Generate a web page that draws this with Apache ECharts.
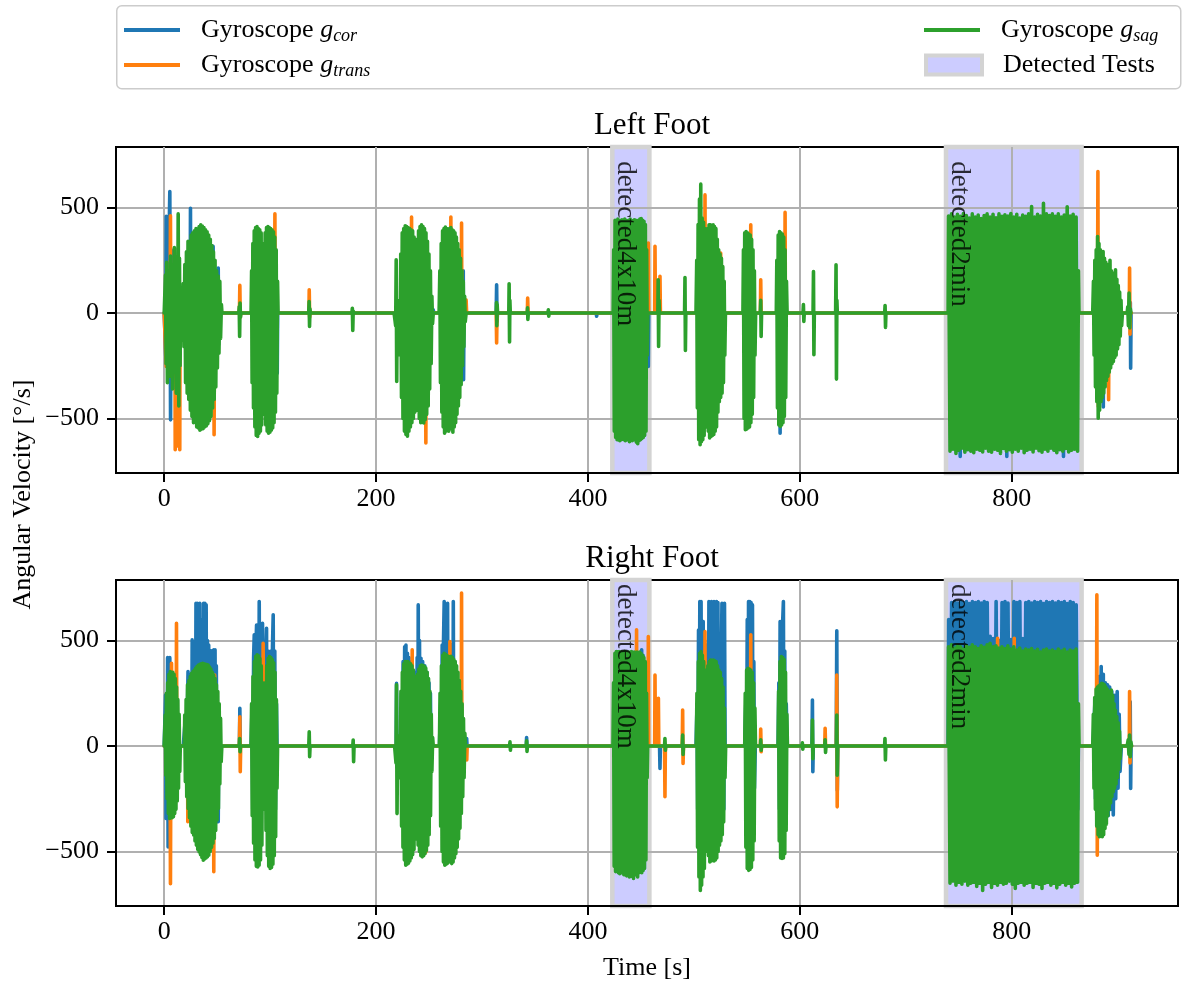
<!DOCTYPE html>
<html>
<head>
<meta charset="utf-8">
<script src="https://cdn.jsdelivr.net/npm/echarts@6/dist/echarts.min.js"></script>
<style>
  html, body { margin: 0; padding: 0; background: #fff; }
  #chart { width: 1187px; height: 989px; }
</style>
</head>
<body>
<div id="chart"></div>
<script>
// Gyroscope recordings (time in s, angular velocity in deg/s)
const xTicks = [0, 200, 400, 600, 800];
const yTicks = [-500, 0, 500];
const testSpans = [[423, 458], [738, 866]];
const testNames = ['detected4x10m', 'detected2min'];

// ---- Left foot ----
const lfCor = [[0,0],[1.5,-205],[1.9,458],[2.4,-253],[3,200],[3.6,-150],[4.4,300],[5.3,576],[6,-506],[6.6,300],[7.2,-200],[8,100],[9,-100],[10,50],[11,0],
[19.6,0],[20.1,213],[20.6,-200],[21.2,0],[24.5,0],[24.8,497],[25.2,-300],[25.8,0],[45.9,0],[46.2,316],[46.6,-300],[47,0],[50.7,0],[51,213],[51.4,-150],[51.8,0],
[106.3,0],[106.7,-285],[107.1,0],[253.6,0],[254,15],[254.4,0],[281.9,0],[282.3,200],[282.6,-316],[283,0],
[313.4,0],[313.8,134],[314.2,-40],[314.6,0],[407.8,0],[408.2,-15],[408.6,0],[456.6,0],[457,-253],[457.4,0],
[524.9,0],[525.3,-237],[525.7,0],[581,0],[581.4,-569],[581.8,0],[751,0],[751.4,-680],[751.8,0],[795,0],[795.4,-680],[795.8,0],
[848.5,0],[848.9,-680],[849.3,0],[886.1,0],[886.5,-445],[886.9,0],[911.6,0],[912,50],[912.3,-261],[912.7,0],[913,0]];

const lfTrans = [[0,0],[1.5,0],[1.9,-253],[2.3,0],[5.6,0],[5.9,461],[6.3,-200],[7,0],[10.1,0],[10.4,-648],[10.8,0],[12.5,0],[12.8,-630],[13.2,0],[14.4,0],[14.7,-648],[15,0],
[22.3,0],[22.6,-348],[23,0],[46.8,0],[47.1,-577],[47.5,0],[71,0],[71.4,131],[71.8,-20],[72.2,0],[104.2,0],[104.5,471],[104.8,0],
[136.6,0],[136.9,110],[137.3,-20],[137.7,0],[233.2,0],[233.5,455],[233.8,0],[246.7,0],[247,-616],[247.3,0],
[270.3,0],[270.6,455],[270.9,0],[280.4,0],[280.7,427],[281,0],[285,62],[285.5,0],[313.4,0],[313.8,-142],[314.2,0],[342.8,0],[343.1,71],[343.5,0],
[456.6,0],[457,332],[457.4,0],[463,0],[463.3,316],[463.7,0],[467.7,0],[468,174],[468.4,0],[510.2,0],[510.5,560],[510.8,0],[525,0],[525.3,284],[525.7,0],
[553.4,0],[553.7,418],[554,0],[562.8,0],[563.1,158],[563.5,0],[585.8,0],[586.1,477],[586.4,0],
[881,0],[881.4,671],[881.8,-443],[882.2,0],[891.2,0],[891.5,-411],[891.9,0],[911,0],[911.3,213],[911.7,-100],[912,0],[913,0]];

const lfSag = [[0,0],[0.8,0],
[1.2,180],[1.8,-240],[2.4,240],[3,-330],[3.6,200],[4.2,-300],[4.8,150],[5.4,-250],[6,270],[6.6,-300],[7.2,180],[7.8,-360],[8.4,230],[9,-200],[9.6,310],[10.2,-280],[10.8,250],[11.4,-380],[12,200],[12.6,-300],[13.2,470],[13.8,-440],[14.4,260],[15,-250],[15.6,120],[16.2,-130],[16.8,100],[17.4,-90],
[18,140],[18.7,-160],[19.5,230],[20.2,-330],[21,290],[21.7,-380],[22.5,340],[23.2,-410],[24,330],[24.7,-460],[25.5,370],[26.2,-490],[27,380],[27.7,-520],[28.5,390],[29.2,-510],[30,400],[30.7,-540],[31.5,395],[32.2,-545],[33,410],[33.7,-555],[34.5,418],[35.2,-550],[36,412],[36.7,-548],[37.5,405],[38.2,-540],[39,395],[39.7,-535],[40.5,385],[41.2,-525],[42,370],[42.7,-510],[43.5,350],[44.2,-490],[45,320],[45.7,-450],[46.5,290],[47.2,-410],[48,250],[48.7,-350],[49.5,200],[50.2,-260],[51,175],[51.7,-190],[52.5,150],[53.2,-120],[54,40],[54.5,0],
[70.4,0],[70.8,30],[71.2,-111],[71.6,47],[72,-20],[72.5,0],
[82,0],[82.5,200],[83,-330],[83.7,330],[84.3,-450],[85,390],[85.6,-540],[86.3,405],[86.9,-580],[87.6,410],[88.2,-585],[88.9,400],[89.5,-570],[90.2,395],[90.8,-560],[91.5,380],[92.1,-530],[92.8,330],[93.4,-420],[94,300],[94.6,-480],[95.3,380],[95.9,-530],[96.6,405],[97.2,-560],[97.9,410],[98.5,-569],[99.2,405],[99.8,-565],[100.5,400],[101.1,-555],[101.8,395],[102.4,-545],[103.1,385],[103.7,-520],[104.4,360],[105,-470],[105.7,300],[106.3,-380],[107,150],[107.5,0],
[136.4,0],[136.8,55],[137.2,-63],[137.6,20],[138,0],[177.2,0],[177.6,23],[178,-82],[178.4,10],[178.8,0],
[217,0],[218.5,-60],[219,252],[219.5,-324],[220,60],[221,-40],[222,30],[222.7,-200],[223.3,280],[224,-400],[224.7,380],[225.4,-500],[226.1,400],[226.8,-560],[227.5,414],[228.2,-575],[228.9,410],[229.6,-584],[230.3,405],[231,-560],[231.7,400],[232.4,-540],[233.1,395],[233.8,-520],[234.5,390],[235.2,-500],[235.9,360],[236.6,-470],[237.3,330],[238,-420],[238.7,350],[239.4,-460],[240.1,390],[240.8,-500],[241.5,410],[242.2,-520],[242.9,418],[243.6,-515],[244.3,410],[245,-521],[245.7,400],[246.4,-505],[247.1,380],[247.8,-480],[248.5,340],[249.2,-440],[249.9,280],[250.6,-360],[251.3,200],[252,-240],[252.7,80],[253.3,-50],[254,0],
[259.5,0],[260.2,200],[260.8,-330],[261.5,330],[262.1,-470],[262.8,390],[263.4,-540],[264.1,400],[264.7,-569],[265.4,408],[266,-560],[266.7,400],[267.3,-555],[268,395],[268.6,-560],[269.3,400],[269.9,-545],[270.6,405],[271.2,-550],[271.9,395],[272.5,-565],[273.2,390],[273.8,-540],[274.5,380],[275.1,-520],[275.8,360],[276.4,-480],[277.1,330],[277.7,-440],[278.4,300],[279,-400],[279.7,260],[280.3,-340],[281,200],[281.6,-250],[282.3,150],[282.9,-160],[283.6,80],[284.2,-40],[285,0],
[313.4,0],[313.7,50],[314,-60],[314.3,40],[314.7,0],[325.3,0],[325.6,139],[326,-137],[326.3,60],[326.7,0],[342.7,0],[343,25],[343.3,-30],[343.7,0],[362.2,0],[362.6,15],[363,-15],[363.4,0],[407.8,0],[408.2,8],[408.6,-8],[409,0],
[423.8,0],[424.3,300],[424.9,-560],[425.6,440],[426.2,-590],[426.9,430],[427.5,-600],[428.2,445],[428.8,-595],[429.5,440],[430.1,-605],[430.8,435],[431.4,-600],[432.1,442],[432.7,-590],[433.4,438],[434,-600],[434.7,445],[435.3,-605],[436,440],[436.6,-598],[437.3,432],[437.9,-600],[438.6,440],[439.2,-610],[439.9,445],[440.5,-600],[441.2,438],[441.8,-605],[442.5,436],[443.1,-595],[443.8,442],[444.4,-600],[445.1,440],[445.7,-612],[446.4,435],[447,-619],[447.7,440],[448.3,-605],[449,445],[449.6,-600],[450.3,448],[450.9,-595],[451.6,440],[452.2,-590],[452.9,435],[453.5,-580],[454.2,420],[454.8,-560],[455.4,300],[456,-200],[456.5,0],
[466,0],[466.3,158],[466.7,-158],[467.1,60],[467.5,0],[491.2,0],[491.6,168],[492,-177],[492.4,0],
[502,0],[502.7,250],[503.3,-450],[504,420],[504.6,-600],[505.3,540],[505.9,-624],[506.5,611],[507.1,-610],[507.8,450],[508.4,-600],[509.1,430],[509.7,-580],[510.4,400],[511,-540],[511.7,330],[512.3,-450],[513,400],[513.6,-560],[514.3,418],[514.9,-592],[515.6,418],[516.2,-585],[516.9,415],[517.5,-580],[518.2,418],[518.8,-575],[519.5,410],[520.1,-560],[520.8,400],[521.4,-540],[522.1,350],[522.7,-470],[523.4,300],[524,-420],[524.7,280],[525.3,-400],[526,260],[526.6,-380],[527.3,220],[527.9,-330],[528.6,150],[529.2,-200],[529.8,0],
[546.3,0],[546.8,300],[547.4,-500],[548,380],[548.6,-553],[549.3,386],[549.9,-550],[550.6,380],[551.2,-545],[551.9,375],[552.5,-540],[553.2,370],[553.8,-520],[554.5,350],[555.1,-480],[555.8,300],[556.4,-400],[557.1,200],[557.7,-200],[558.3,0],
[562.7,0],[563.1,60],[563.5,-111],[563.9,0],
[577.8,0],[578.3,250],[578.9,-450],[579.6,370],[580.2,-530],[580.9,386],[581.5,-537],[582.2,380],[582.8,-530],[583.5,375],[584.1,-520],[584.8,360],[585.4,-490],[586.1,300],[586.7,-400],[587.4,150],[588,0],
[603,0],[603.4,40],[603.8,-40],[604.2,0],[612.5,0],[612.9,197],[613.3,-197],[613.7,0],[633.8,0],[634.2,229],[634.6,-313],[635,60],[635.4,0],[680.1,0],[680.5,36],[680.9,-68],[681.3,0],
[740,0],[740.4,460],[741.8,-655],[743.2,470],[744.6,-645],[746,455],[747.4,-665],[748.8,468],[750.2,-650],[751.6,458],[753,-640],[754.4,472],[755.8,-660],[757.2,462],[758.6,-648],[760,450],[761.4,-655],[762.8,470],[764.2,-662],[765.6,455],[767,-645],[768.4,465],[769.8,-650],[771.2,448],[772.6,-658],[774,462],[775.4,-640],[776.8,470],[778.2,-655],[779.6,455],[781,-660],[782.4,468],[783.8,-645],[785.2,452],[786.6,-650],[788,470],[789.4,-665],[790.8,458],[792.2,-642],[793.6,466],[795,-655],[796.4,460],[797.8,-648],[799.2,472],[800.6,-660],[802,455],[803.4,-645],[804.8,468],[806.2,-655],[807.6,450],[809,-640],[810.4,465],[811.8,-662],[813.2,458],[814.6,-650],[816,470],[817.4,-645],[818.8,505],[820.2,-658],[821.6,455],[823,-640],[824.4,468],[825.8,-652],[827.2,460],[828.6,-660],[830,520],[831.4,-645],[832.8,470],[834.2,-655],[835.6,462],[837,-640],[838.4,470],[839.8,-650],[841.2,458],[842.6,-662],[844,470],[845.4,-648],[846.8,455],[848.2,-655],[849.6,465],[851,-642],[852.4,504],[853.8,-658],[855.2,460],[856.6,-650],[858,468],[859.4,-645],[860.8,455],[862.2,-655],[863,200],[863.5,0],
[876.5,0],[877.2,150],[877.8,-200],[878.5,250],[879.1,-350],[879.8,300],[880.4,-420],[881.1,363],[881.7,-498],[882.4,330],[883,-460],[883.7,300],[884.3,-420],[885,280],[885.6,-400],[886.3,292],[886.9,-380],[887.6,260],[888.2,-350],[888.9,240],[889.5,-320],[890.2,230],[890.8,-300],[891.5,220],[892.1,-280],[892.8,250],[893.4,-260],[894.1,200],[894.7,-240],[895.4,190],[896,-230],[896.7,180],[897.3,-210],[898,205],[898.6,-200],[899.3,160],[899.9,-170],[900.6,130],[901.2,-150],[901.9,100],[902.5,-110],[903.2,60],[903.8,-60],[904.5,0],
[909,0],[909.6,30],[910.2,-60],[910.8,95],[911.4,-70],[912,20],[912.6,0],[913,0]];

// ---- Right foot ----
const rfCor = [[0,0],[1,0],[1.3,242],[1.7,-343],[2.2,150],[2.8,-200],[3.2,419],[3.7,-478],[4.2,300],[4.7,-250],[5.3,419],[5.8,-300],[6.4,380],[6.9,-250],[7.5,200],[8.5,-150],[10,100],[11.3,0],[11.6,-217],[11.9,0],[14,0],
[18,0],[19.5,100],[21,-100],[22.5,353],[23,-200],[24,300],[24.6,-250],[25.2,340],[25.8,-300],[26.4,503],[27,-300],[27.6,495],[28.2,-300],[28.8,480],[29.4,-300],[30,677],[30.6,-300],[31.2,677],[31.8,-300],[32.4,670],[33,-300],[33.6,677],[34.2,-300],[34.8,600],[35.4,-300],[36,550],[36.6,-300],[37.2,677],[37.8,-300],[38.4,677],[39,-300],[39.6,670],[40.2,-300],[40.8,500],[41.4,-300],[42,479],[42.6,-300],[43.2,440],[43.8,-300],[44.4,452],[45,-300],[45.6,430],[46.2,-300],[46.8,456],[47.4,-300],[48,456],[48.6,-300],[49.2,380],[49.8,-359],[50.4,150],[51,-359],[51.6,100],[52.5,0],
[71,0],[71.4,179],[71.8,0],
[82,0],[83,200],[83.6,-300],[84.4,420],[85,527],[85.6,-300],[86.5,450],[87.2,574],[87.8,-300],[88.6,470],[89.1,-300],[89.7,685],[90.3,-300],[91.2,460],[91.8,-300],[92.8,582],[93.4,-200],[94.2,150],[95,-200],[95.8,420],[96.6,558],[97.2,-300],[98,450],[98.6,-300],[99.4,432],[100,-300],[100.8,450],[101.4,-300],[102.2,470],[102.9,622],[103.5,-300],[104.4,450],[105,-300],[106,200],[106.5,0],
[219,0],[219.3,297],[219.7,-100],[220.2,0],[223,0],[224,250],[224.6,-300],[225.5,400],[226.1,-300],[227,471],[227.6,-300],[228.2,479],[228.8,-300],[229.6,440],[230.2,-300],[231,420],[231.6,-300],[232.5,400],[233.1,-300],[234,380],[235.1,-438],[235.8,300],[236.5,-300],[237.3,350],[238,-300],[238.8,420],[239.4,-300],[239.8,669],[240.4,-300],[241,500],[241.6,-300],[242.4,416],[243,-300],[244,400],[244.6,-300],[246,380],[246.6,-300],[248,350],[248.6,-300],[250,300],[250.6,-200],[251.3,250],[251.9,-100],[252.5,0],
[259.8,0],[261,200],[261.6,-300],[262.4,479],[263,-300],[263.6,479],[264.3,685],[264.9,-300],[265.6,500],[266.2,-300],[266.9,480],[267.5,677],[268.1,-300],[269,450],[269.6,-300],[270.4,480],[271,-300],[271.8,450],[272.4,-300],[272.9,685],[273.5,-300],[274.4,400],[275,-300],[276.2,350],[276.8,-250],[278.2,250],[278.8,-200],[280.2,150],[280.8,-100],[282.2,0],[285.2,0],[285.5,36],[285.9,0],
[341.8,0],[342.1,40],[342.5,0],
[440,0],[447.4,300],[448,432],[448.6,-300],[449.3,440],[449.9,-300],[450.7,456],[451.3,-300],[452,430],[452.6,-300],[453.3,400],[454,-200],[455,0],
[467.6,0],[468,-106],[468.4,0],
[502,0],[503,200],[503.6,-300],[504.4,550],[505,-300],[505.6,685],[506.2,-300],[506.8,685],[507.4,-300],[508.2,540],[508.8,590],[509.4,-300],[510.2,500],[510.8,-300],[511.6,450],[512.2,-300],[513,480],[513.6,-300],[514.2,685],[514.8,-300],[515.4,680],[516,-300],[516.6,685],[517.2,-300],[517.8,670],[518.4,-300],[519,685],[519.6,-300],[520.2,675],[520.8,-300],[521.4,685],[522,-300],[522.7,680],[523.3,-300],[524,470],[524.6,-300],[525.3,-335],[525.9,400],[526.5,677],[527.1,-300],[527.7,670],[528.3,-300],[528.9,677],[529.5,0],
[548,0],[549,200],[549.6,-300],[550.4,600],[551,-300],[551.6,685],[552.2,-300],[552.8,685],[553.4,-300],[554,680],[554.6,-300],[555.3,669],[555.9,-300],[556.6,400],[557.2,-200],[558,0],
[579.5,0],[580.2,300],[580.8,-300],[581.4,590],[582,-300],[582.7,500],[583.3,-300],[583.9,600],[584.5,685],[585.1,-300],[585.8,450],[586.4,-300],[587.2,200],[588,0],
[611.5,0],[611.9,218],[612.3,-122],[612.7,0],[634.4,0],[634.9,546],[635.4,-209],[635.9,0],
[740,0],[740.5,600],[741.9,-300],[743.3,680],[744.7,-300],[746.1,685],[747.5,-300],[748.9,678],[750.3,-300],[751.7,685],[753.1,-300],[754.5,680],[755.9,-300],[757.3,685],[758.7,-300],[760.1,675],[761.5,-300],[762.9,685],[764.3,-300],[765.7,680],[767.1,-300],[768.5,685],[769.9,-300],[771.3,678],[772.7,-300],[774.1,685],[775.5,-300],[776.9,680],[778.3,-300],[779.7,520],[781.1,-300],[782.5,510],[783.9,-300],[785.3,685],[786.7,-300],[788.1,500],[789.5,-300],[790.9,680],[792.3,-300],[793.7,685],[795.1,-300],[796.5,678],[797.9,-300],[799.3,505],[800.7,-300],[802.1,685],[803.5,-300],[804.9,680],[806.3,-300],[807.7,685],[809.1,-300],[810.5,510],[811.9,-300],[813.3,680],[814.7,-300],[816.1,685],[817.5,-300],[818.9,678],[820.3,-300],[821.7,685],[823.1,-300],[824.5,680],[825.9,-300],[827.3,685],[828.7,-300],[830.1,675],[831.5,-300],[832.9,685],[834.3,-300],[835.7,680],[837.1,-300],[838.5,685],[839.9,-300],[841.3,678],[842.7,-300],[844.1,685],[845.5,-300],[846.9,680],[848.3,-300],[849.7,685],[851.1,-300],[852.5,675],[853.9,-300],[855.3,685],[856.7,-300],[858.1,680],[859.5,-300],[860.9,670],[862.3,-300],[863,0],
[876.8,0],[878.5,200],[879.1,-250],[880.5,280],[881.1,-320],[882.5,330],[883.1,-360],[884.5,377],[885.1,-380],[886.5,340],[887.1,-360],[888.5,300],[889.1,-340],[890.5,290],[891.1,-330],[892.5,280],[893.1,-300],[894.5,260],[895.9,-327],[897.3,240],[898.2,-250],[899.6,258],[900.4,-200],[901.5,150],[902.3,-120],[903.5,0],[911.6,0],[911.9,210],[912.3,-201],[912.7,0],[913.2,0]];

const rfTrans = [[0,0],[5.5,0],[5.9,-652],[6.3,0],[6.6,0],[6.9,392],[7.2,0],[11.3,0],[11.6,582],[11.9,0],
[22,0],[22.3,-359],[22.6,0],[46.5,0],[46.8,-596],[47.1,0],[47.6,337],[48,0],[71,0],[71.4,139],[71.8,-122],[72.2,0],[93.1,0],[93.4,487],[93.7,0],
[233.8,0],[234.1,456],[234.4,0],[246.7,0],[247,-502],[247.3,0],[269.4,0],[269.7,495],[270,0],[280.4,0],[280.7,725],[281,0],[285.2,0],[285.6,-66],[286,0],
[445.6,0],[445.9,551],[446.2,0],[456.7,0],[457,519],[457.3,0],[463,0],[463.3,337],[463.7,0],[466.2,0],[466.5,226],[466.9,0],[472.3,0],[472.7,-240],[473.1,0],[489,0],[489.4,171],[489.8,-82],[490.2,0],
[510.2,0],[510.5,543],[510.8,0],[553.4,0],[553.7,527],[554,0],[562.8,0],[563.1,81],[563.5,-27],[563.9,0],
[623.5,0],[623.9,84],[624.3,0],[634.5,0],[634.9,337],[635.3,-288],[635.7,0],
[786.4,0],[786.7,511],[787,0],[802.1,0],[802.4,511],[802.7,0],
[880,0],[880.4,717],[880.8,-517],[881.2,0],[894.3,0],[894.6,-201],[895,0],[911,0],[911.3,258],[911.7,-80],[912,0],[913.2,0]];

const rfSag = [[0,0],[0.6,0],
[1,147],[1.5,-138],[2.1,250],[2.7,-250],[3.3,300],[3.9,-320],[4.5,340],[5.1,-343],[5.7,353],[6.3,-330],[6.9,345],[7.5,-340],[8.1,350],[8.7,-335],[9.3,340],[9.9,-320],[10.5,320],[11.1,-300],[11.7,280],[12.3,-260],[12.9,220],[13.5,-200],[14.1,150],[14.7,-120],[15.2,0],
[19,0],[19.4,147],[20,-169],[20.7,220],[21.3,-240],[22,290],[22.6,-296],[23.3,310],[23.9,-340],[24.6,330],[25.2,-380],[25.9,345],[26.5,-410],[27.2,353],[27.8,-422],[28.5,360],[29.1,-450],[29.8,370],[30.4,-470],[31.1,378],[31.7,-490],[32.4,384],[33,-502],[33.7,388],[34.3,-515],[35,390],[35.6,-528],[36.3,392],[36.9,-541],[37.6,390],[38.2,-535],[38.9,388],[39.5,-530],[40.2,386],[40.8,-525],[41.5,384],[42.1,-517],[42.8,375],[43.4,-500],[44.1,365],[44.7,-480],[45.4,350],[46,-460],[46.7,337],[47.3,-438],[48,320],[48.6,-400],[49.3,290],[49.9,-350],[50.6,258],[51.2,-296],[51.9,200],[52.5,-180],[53.2,131],[53.8,-74],[54.4,0],
[70.9,0],[71.2,36],[71.6,-27],[72,0],
[82,0],[82.5,200],[83.1,-330],[83.8,330],[84.4,-460],[85.1,400],[85.7,-540],[86.4,425],[87,-570],[87.7,432],[88.3,-573],[89,428],[89.6,-565],[90.3,415],[90.9,-540],[91.6,380],[92.2,-470],[92.9,300],[93.5,-300],[94.2,210],[94.8,-217],[95.5,300],[96.1,-400],[96.8,380],[97.4,-520],[98.1,415],[98.7,-570],[99.4,424],[100,-580],[100.7,420],[101.3,-575],[102,410],[102.6,-560],[103.3,395],[103.9,-520],[104.6,350],[105.2,-430],[105.9,220],[106.5,-200],[107,0],
[136.5,0],[136.9,68],[137.3,-50],[137.7,0],[178,0],[178.4,28],[178.8,-74],[179.2,0],
[217.5,0],[218.8,-80],[219.3,290],[219.8,-320],[220.3,50],[221,-30],[222,40],[222.8,-150],[223.5,260],[224.1,-380],[224.8,350],[225.4,-480],[226.1,390],[226.7,-540],[227.4,400],[228,-565],[228.7,398],[229.3,-560],[230,400],[230.6,-555],[231.3,395],[231.9,-545],[232.6,390],[233.2,-530],[233.9,380],[234.5,-515],[235.2,360],[235.8,-490],[236.5,330],[237.1,-440],[237.8,300],[238.4,-420],[239.1,340],[239.7,-470],[240.4,365],[241,-500],[241.7,380],[242.3,-520],[243,384],[243.6,-525],[244.3,382],[244.9,-520],[245.6,378],[246.2,-510],[246.9,370],[247.5,-495],[248.2,350],[248.8,-470],[249.5,320],[250.1,-420],[250.8,260],[251.4,-330],[252.1,150],[252.7,-120],[253.4,40],[254,0],
[259.8,0],[260.4,250],[261,-380],[261.7,380],[262.3,-500],[263,430],[263.6,-550],[264.3,440],[264.9,-565],[265.6,435],[266.2,-560],[266.9,430],[267.5,-555],[268.2,425],[268.8,-545],[269.5,420],[270.1,-550],[270.8,425],[271.4,-557],[272.1,420],[272.7,-550],[273.4,410],[274,-530],[274.7,400],[275.3,-510],[276,380],[276.6,-480],[277.3,350],[277.9,-440],[278.6,310],[279.2,-390],[279.9,260],[280.5,-320],[281.2,200],[281.8,-240],[282.5,130],[283.1,-150],[283.8,60],[284.4,0],
[326,0],[326.4,20],[326.8,-20],[327.2,0],[341.8,0],[342.1,25],[342.5,-25],[342.9,0],
[423.6,0],[424.2,300],[424.8,-570],[425.5,440],[426.1,-595],[426.8,448],[427.4,-590],[428.1,445],[428.7,-600],[429.4,448],[430,-605],[430.7,440],[431.3,-595],[432,446],[432.6,-600],[433.3,442],[433.9,-610],[434.6,448],[435.2,-600],[435.9,445],[436.5,-615],[437.2,440],[437.8,-605],[438.5,446],[439.1,-620],[439.8,444],[440.4,-610],[441.1,448],[441.7,-618],[442.4,440],[443,-628],[443.7,445],[444.3,-610],[445,440],[445.6,-605],[446.3,446],[446.9,-620],[447.6,440],[448.2,-600],[448.9,445],[449.5,-595],[450.2,438],[450.8,-600],[451.5,430],[452.1,-590],[452.8,420],[453.4,-580],[454.1,400],[454.7,-540],[455.3,250],[455.9,-150],[456.4,0],
[472.3,0],[472.7,36],[473.1,-20],[473.5,0],[489,0],[489.4,52],[489.8,-40],[490.2,0],
[502.3,0],[502.9,250],[503.5,-480],[504.2,400],[504.8,-620],[505.5,440],[506.1,-684],[506.7,448],[507.3,-660],[508,430],[508.6,-620],[509.3,400],[509.9,-580],[510.6,360],[511.2,-500],[511.9,330],[512.5,-460],[513.2,380],[513.8,-520],[514.5,400],[515.1,-549],[515.8,408],[516.4,-545],[517.1,405],[517.7,-540],[518.4,408],[519,-545],[519.7,404],[520.3,-540],[521,400],[521.6,-530],[522.3,380],[522.9,-500],[523.6,360],[524.2,-470],[524.9,350],[525.5,-450],[526.2,320],[526.8,-420],[527.5,280],[528.1,-360],[528.8,180],[529.4,-150],[530,0],
[548,0],[548.5,250],[549.1,-480],[549.8,360],[550.4,-580],[551.1,369],[551.7,-589],[552.4,365],[553,-585],[553.7,360],[554.3,-575],[555,350],[555.6,-540],[556.3,300],[556.9,-450],[557.6,180],[558.2,0],
[562.8,0],[563.1,30],[563.5,-20],[563.9,0],
[579.5,0],[580,260],[580.6,-450],[581.3,400],[581.9,-530],[582.6,424],[583.2,-533],[583.9,420],[584.5,-530],[585.2,410],[585.8,-510],[586.5,350],[587.1,-400],[587.8,150],[588.3,0],
[602,0],[602.4,15],[602.8,-15],[603.2,0],[611.5,0],[611.9,123],[612.3,-60],[612.7,0],[623.5,0],[623.9,30],[624.3,-30],[624.7,0],[634.5,0],[634.9,147],[635.3,-138],[635.7,0],[680,0],[680.4,36],[680.8,-66],[681.2,0],
[740,0],[740.4,470],[741.8,-650],[743.2,480],[744.6,-640],[746,465],[747.4,-660],[748.8,478],[750.2,-645],[751.6,470],[753,-655],[754.4,460],[755.8,-640],[757.2,475],[758.6,-660],[760,468],[761.4,-650],[762.8,480],[764.2,-645],[765.6,470],[767,-665],[768.4,462],[769.8,-650],[771.2,475],[772.6,-684],[774,468],[775.4,-655],[776.8,480],[778.2,-645],[779.6,487],[781,-670],[782.4,470],[783.8,-650],[785.2,475],[786.6,-660],[788,465],[789.4,-645],[790.8,470],[792.2,-655],[793.6,462],[795,-650],[796.4,475],[797.8,-640],[799.2,460],[800.6,-655],[802,470],[803.4,-675],[804.8,455],[806.2,-650],[807.6,465],[809,-645],[810.4,450],[811.8,-660],[813.2,460],[814.6,-650],[816,455],[817.4,-645],[818.8,462],[820.2,-670],[821.6,450],[823,-650],[824.4,458],[825.8,-655],[827.2,445],[828.6,-675],[830,455],[831.4,-650],[832.8,460],[834.2,-645],[835.6,450],[837,-660],[838.4,455],[839.8,-650],[841.2,448],[842.6,-672],[844,460],[845.4,-655],[846.8,450],[848.2,-645],[849.6,458],[851,-660],[852.4,445],[853.8,-650],[855.2,455],[856.6,-668],[858,450],[859.4,-650],[860.8,460],[862.2,-645],[863,200],[863.6,0],
[876.5,0],[877.1,150],[877.7,-200],[878.4,230],[879,-300],[879.7,270],[880.3,-380],[881,280],[881.6,-420],[882.3,285],[882.9,-430],[883.6,290],[884.2,-425],[884.9,297],[885.5,-430],[886.2,295],[886.8,-420],[887.5,290],[888.1,-391],[888.8,280],[889.4,-370],[890.1,270],[890.7,-330],[891.4,260],[892,-300],[892.7,250],[893.3,-270],[894,266],[894.6,-240],[895.3,240],[895.9,-217],[896.6,200],[897.2,-200],[897.9,170],[898.5,-180],[899.2,140],[899.8,-150],[900.5,110],[901.1,-110],[901.8,70],[902.4,-60],[903,0],
[909,0],[910,30],[910.7,-40],[911.3,52],[911.9,-50],[912.5,20],[913.2,0]];

// ---- Drawing ----
const FONT = "'Liberation Serif', 'DejaVu Serif', serif";
const COLORS = { cor: '#1f77b4', trans: '#ff7f0e', sag: '#2ca02c' };
const X_RANGE = [-45.5, 957];
const Y_RANGE = [-758, 787];
const LABEL_Y = [717, 766];
const panels = [
  { title: 'Left Foot',  cor: lfCor, trans: lfTrans, sag: lfSag, top: 147 },
  { title: 'Right Foot', cor: rfCor, trans: rfTrans, sag: rfSag, top: 580 }
];

const chart = echarts.init(document.getElementById('chart'), null, { renderer: 'canvas' });

const minus = v => String(v).replace('-', '\u2212');

const grids = panels.map(p => ({
  left: 116, top: p.top, width: 1062, height: 326,
  show: true, borderColor: '#000', borderWidth: 2, backgroundColor: 'transparent'
}));

const xAxes = panels.map((p, i) => ({
  type: 'value', gridIndex: i, min: X_RANGE[0], max: X_RANGE[1], z: 1,
  name: i === 1 ? 'Time [s]' : '', nameLocation: 'middle', nameGap: 49,
  nameTextStyle: { fontFamily: FONT, fontSize: 26, color: '#000' },
  axisLine: { onZero: false, lineStyle: { color: '#000', width: 2 } },
  axisTick: { show: true, length: 9, lineStyle: { color: '#000', width: 2 }, customValues: xTicks },
  axisLabel: { customValues: xTicks, color: '#000', fontFamily: FONT, fontSize: 26, margin: 13 },
  splitLine: { show: true, lineStyle: { color: '#b0b0b0', width: 2 }, customValues: xTicks }
}));

const yAxes = panels.map((p, i) => ({
  type: 'value', gridIndex: i, min: Y_RANGE[0], max: Y_RANGE[1], z: 1,
  axisLine: { show: true, onZero: false, lineStyle: { color: '#000', width: 2 } },
  axisTick: { show: true, length: 9, lineStyle: { color: '#000', width: 2 }, customValues: yTicks },
  axisLabel: { customValues: yTicks, color: '#000', fontFamily: FONT, fontSize: 26, margin: 17, formatter: minus },
  splitLine: { show: true, lineStyle: { color: '#b0b0b0', width: 2 }, customValues: yTicks }
}));

function signal(name, data, color, gi) {
  return {
    type: 'line', name, data, xAxisIndex: gi, yAxisIndex: gi,
    symbol: 'none', showSymbol: false, animation: false, silent: true, z: 2,
    lineStyle: { color, width: 3.6, cap: 'round', join: 'round' },
    itemStyle: { color }, emphasis: { disabled: true }
  };
}

const series = [];
panels.forEach((p, gi) => {
  series.push({
    type: 'line', name: 'Detected Tests', data: [], xAxisIndex: gi, yAxisIndex: gi, z: 0,
    itemStyle: { color: 'rgba(0,0,255,0.2)' }, silent: true, animation: false,
    markArea: {
      silent: true, z: 0,
      itemStyle: { color: 'rgba(0,0,255,0.2)', borderColor: '#d3d3d3', borderWidth: 4.5 },
      data: testSpans.map(([a, b]) => [{ xAxis: a }, { xAxis: b }])
    }
  });
  series.push(signal('Gyroscope g_cor', p.cor, COLORS.cor, gi));
  series.push(signal('Gyroscope g_trans', p.trans, COLORS.trans, gi));
  series.push(signal('Gyroscope g_sag', p.sag, COLORS.sag, gi));
  series.push({
    type: 'scatter', xAxisIndex: gi, yAxisIndex: gi, symbol: 'circle', symbolSize: 1,
    itemStyle: { color: 'transparent' }, silent: true, animation: false, z: 3,
    data: testSpans.map((s, k) => ({ name: testNames[k], value: [s[0], LABEL_Y[gi]] })),
    label: {
      show: true, formatter: '{b}', position: [0, 0], rotate: -90,
      align: 'left', verticalAlign: 'bottom', offset: [0, 0],
      fontFamily: FONT, fontSize: 27, color: '#000'
    }
  });
});

const rich = {
  sp: { width: 16 },
  n: { fontFamily: FONT, fontSize: 26, lineHeight: 30, color: '#000' },
  g: { fontFamily: FONT, fontStyle: 'italic', fontSize: 26, lineHeight: 30, color: '#000' },
  s: { fontFamily: FONT, fontStyle: 'italic', fontSize: 18, lineHeight: 14, verticalAlign: 'bottom', color: '#000' }
};
const legendText = name => {
  const parts = name.split(' g_');
  return parts.length === 2 ? `{sp| }{n|${parts[0]} }{g|g}{s|${parts[1]}}` : `{sp| }{n|${name}}`;
};
function legendItem(name, left, top, tall) {
  const item = { name };
  if (tall) item.itemStyle = { color: 'rgba(0,0,255,0.2)', borderColor: '#d3d3d3', borderWidth: 4 };
  return {
    data: [item], left, top, orient: 'horizontal', icon: 'rect',
    itemWidth: 56, itemHeight: tall ? 19 : 4, padding: 0, selectedMode: false,
    formatter: legendText, textStyle: { rich, fontFamily: FONT, fontSize: 26, color: '#000' }
  };
}

chart.setOption({
  animation: false,
  backgroundColor: '#fff',
  title: panels.map(p => ({
    text: p.title, left: 647, top: p.top - 42, textAlign: 'center',
    textStyle: { fontFamily: FONT, fontSize: 31, fontWeight: 'normal', color: '#000' }
  })),
  legend: [
    legendItem('Gyroscope g_cor', 124, 17, false),
    legendItem('Gyroscope g_trans', 124, 52, false),
    legendItem('Gyroscope g_sag', 924, 17, false),
    legendItem('Detected Tests', 924, 52, true)
  ],
  grid: grids,
  xAxis: xAxes,
  yAxis: yAxes,
  series,
  graphic: [
    {
      type: 'rect', left: 116, top: 5, z: -1, silent: true,
      shape: { width: 1064, height: 83, r: 5 },
      style: { fill: '#fff', stroke: '#cccccc', lineWidth: 1.5 }
    },
    {
      type: 'text', x: 23, y: 494.5, rotation: Math.PI / 2, silent: true,
      style: {
        text: 'Angular Velocity [\u00b0/s]', font: `26px ${FONT}`, fill: '#000',
        textAlign: 'center', textVerticalAlign: 'middle'
      }
    }
  ]
});
</script>
</body>
</html>
